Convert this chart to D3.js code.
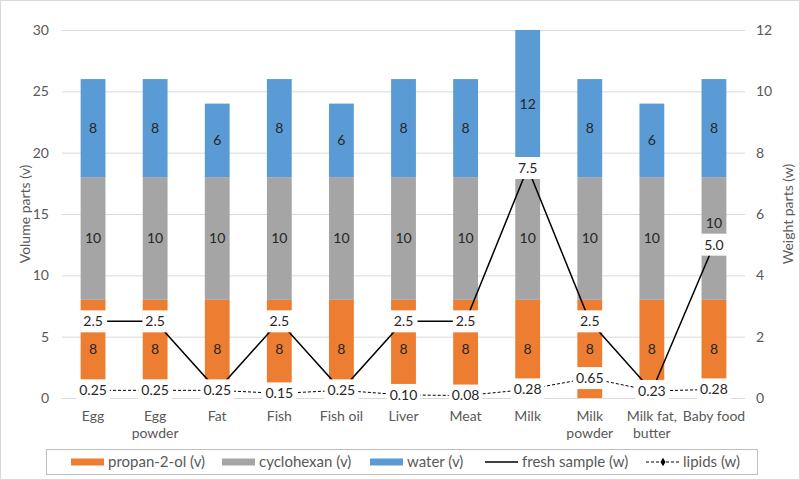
<!DOCTYPE html>
<html>
<head>
<meta charset="utf-8">
<script src="https://cdn.jsdelivr.net/npm/d3@7/dist/d3.min.js"></script>
<style>
  body { margin: 0; background: #fff; }
  svg { display: block; font-family: Lato, "Open Sans", sans-serif; }
</style>
</head>
<body>
<svg id="chart" width="800" height="480"></svg>
<script>
const categories = ["Egg", "Egg\npowder", "Fat", "Fish", "Fish oil", "Liver", "Meat", "Milk", "Milk\npowder", "Milk fat,\nbutter", "Baby food"];
const propanol = [8, 8, 8, 8, 8, 8, 8, 8, 8, 8, 8];
const cyclohexan = [10, 10, 10, 10, 10, 10, 10, 10, 10, 10, 10];
const water = [8, 8, 6, 8, 6, 8, 8, 12, 8, 6, 8];
const freshSample = [2.5, 2.5, 0.25, 2.5, 0.25, 2.5, 2.5, 7.5, 2.5, 0.23, 5.0];
const freshLabels = ["2.5", "2.5", null, "2.5", null, "2.5", "2.5", "7.5", "2.5", null, "5.0"];
const lipids = [0.25, 0.25, 0.25, 0.15, 0.25, 0.10, 0.08, 0.28, 0.65, 0.23, 0.28];
const lipidLabels = ["0.25", "0.25", "0.25", "0.15", "0.25", "0.10", "0.08", "0.28", "0.65", "0.23", "0.28"];
const leftTicks = [0, 5, 10, 15, 20, 25, 30];
const rightTicks = [0, 2, 4, 6, 8, 10, 12];
const seriesNames = ["propan-2-ol (v)", "cyclohexan (v)", "water (v)", "fresh sample (w)", "lipids (w)"];
const colors = { propanol: "#ED7D31", cyclohexan: "#A5A5A5", water: "#5B9BD5" };

const svg = d3.select("#chart");
const M = { left: 62, right: 55, top: 30, bottom: 82 };
const W = 800 - M.left - M.right, H = 480 - M.top - M.bottom;

svg.append("rect").attr("x", 0.5).attr("y", 0.5).attr("width", 799).attr("height", 479)
  .attr("fill", "#fff").attr("stroke", "#d9d9d9");

const g = svg.append("g").attr("transform", `translate(${M.left},${M.top})`);

const x = d3.scaleBand().domain(categories).range([0, W]).paddingInner(0.6).paddingOuter(0.3);
const yL = d3.scaleLinear().domain([0, 30]).range([H, 0]);
const yR = d3.scaleLinear().domain([0, 12]).range([H, 0]);

// gridlines
g.append("g").call(d3.axisLeft(yL).tickValues(leftTicks).tickSize(-W).tickFormat(""))
  .call(s => s.select(".domain").remove())
  .call(s => s.selectAll("line").attr("stroke", "#d9d9d9").attr("stroke-width", 1));

// left axis labels
g.append("g").attr("transform", "translate(-10,0)")
  .call(d3.axisLeft(yL).tickValues(leftTicks).tickSize(0))
  .call(s => s.select(".domain").remove())
  .call(s => s.selectAll("text").attr("fill", "#595959").style("font-size", "14px").style("font-family", "Lato, sans-serif"));

// right axis labels
g.append("g").attr("transform", `translate(${W + 8},0)`)
  .call(d3.axisRight(yR).tickValues(rightTicks).tickSize(0))
  .call(s => s.select(".domain").remove())
  .call(s => s.selectAll("text").attr("fill", "#595959").style("font-size", "14px").style("font-family", "Lato, sans-serif"));

// axis titles
svg.append("text").attr("transform", `translate(30,${M.top + H / 2}) rotate(-90)`)
  .attr("text-anchor", "middle").attr("fill", "#595959").style("font-size", "14px").text("Volume parts (v)");
svg.append("text").attr("transform", `translate(793,${M.top + H / 2}) rotate(-90)`)
  .attr("text-anchor", "middle").attr("fill", "#595959").style("font-size", "14px").text("Weight parts (w)");

// stacked bars
const table = categories.map((c, i) => ({ cat: c, propanol: propanol[i], cyclohexan: cyclohexan[i], water: water[i] }));
const keys = ["propanol", "cyclohexan", "water"];
const stack = d3.stack().keys(keys)(table);

stack.forEach(layer => {
  g.append("g").selectAll("rect").data(layer).join("rect")
    .attr("x", d => x(d.data.cat))
    .attr("y", d => yL(d[1]))
    .attr("width", x.bandwidth())
    .attr("height", d => yL(d[0]) - yL(d[1]))
    .attr("fill", colors[layer.key]);
});

// bar value labels
stack.forEach(layer => {
  g.append("g").selectAll("text").data(layer).join("text")
    .attr("x", d => x(d.data.cat) + x.bandwidth() / 2)
    .attr("y", (d, i) => {
      let yy = yL((d[0] + d[1]) / 2);
      const fy = yR(freshSample[i]);
      if (freshLabels[i] && Math.abs(yy - fy) < 20) yy = fy - 22;
      return yy;
    })
    .attr("dy", "0.35em").attr("text-anchor", "middle")
    .attr("fill", "#262626").style("font-size", "14px")
    .text(d => d.data[layer.key]);
});

const cx = i => x(categories[i]) + x.bandwidth() / 2;

// lines
const lineF = d3.line().x((d, i) => cx(i)).y(d => yR(d));
g.append("path").datum(freshSample).attr("d", lineF)
  .attr("fill", "none").attr("stroke", "#000").attr("stroke-width", 1.5);
g.append("path").datum(lipids).attr("d", lineF)
  .attr("fill", "none").attr("stroke", "#000").attr("stroke-width", 1).attr("stroke-dasharray", "3,2");

// line labels with white boxes
function drawLabels(values, labels) {
  const lg = g.append("g");
  values.forEach((v, i) => {
    if (!labels[i]) return;
    const t = lg.append("text").attr("x", cx(i)).attr("y", yR(v)).attr("dy", "0.35em")
      .attr("text-anchor", "middle").attr("fill", "#262626").style("font-size", "14px").text(labels[i]);
    const bb = t.node().getBBox();
    lg.insert("rect", "text").attr("x", bb.x - 3).attr("y", yR(v) - 11)
      .attr("width", Math.max(bb.width + 6, x.bandwidth() + 2)).attr("height", 22).attr("fill", "#fff");
  });
}
drawLabels(freshSample, freshLabels);
drawLabels(lipids, lipidLabels);

// category labels
const cg = g.append("g");
categories.forEach((c, i) => {
  const t = cg.append("text").attr("x", cx(i)).attr("y", H + 23).attr("text-anchor", "middle")
    .attr("fill", "#595959").style("font-size", "14px");
  c.split("\n").forEach((line, j) => {
    t.append("tspan").attr("x", cx(i)).attr("dy", j === 0 ? 0 : 17).text(line);
  });
});

// legend
const lgd = svg.append("g");
lgd.append("rect").attr("x", 46.5).attr("y", 449.5).attr("width", 711).attr("height", 25)
  .attr("fill", "#fff").attr("stroke", "#bfbfbf");
const legendX = [71, 222, 370, 485, 646];
const legendY = 462;
seriesNames.forEach((name, i) => {
  const lx = legendX[i];
  if (i < 3) {
    lgd.append("rect").attr("x", lx).attr("y", legendY - 3.5).attr("width", 33).attr("height", 7)
      .attr("fill", colors[keys[i]]);
  } else if (i === 3) {
    lgd.append("line").attr("x1", lx).attr("x2", lx + 33).attr("y1", legendY).attr("y2", legendY)
      .attr("stroke", "#000").attr("stroke-width", 1.5);
  } else {
    lgd.append("line").attr("x1", lx).attr("x2", lx + 33).attr("y1", legendY).attr("y2", legendY)
      .attr("stroke", "#000").attr("stroke-width", 1).attr("stroke-dasharray", "3,2");
    lgd.append("path").attr("d", d3.symbol(d3.symbolDiamond, 22)()).attr("transform", `translate(${lx + 17},${legendY})`)
      .attr("fill", "#000");
  }
  lgd.append("text").attr("x", lx + 37).attr("y", legendY).attr("dy", "0.35em")
    .attr("fill", "#595959").style("font-size", "15px").text(name);
});
</script>
</body>
</html>
